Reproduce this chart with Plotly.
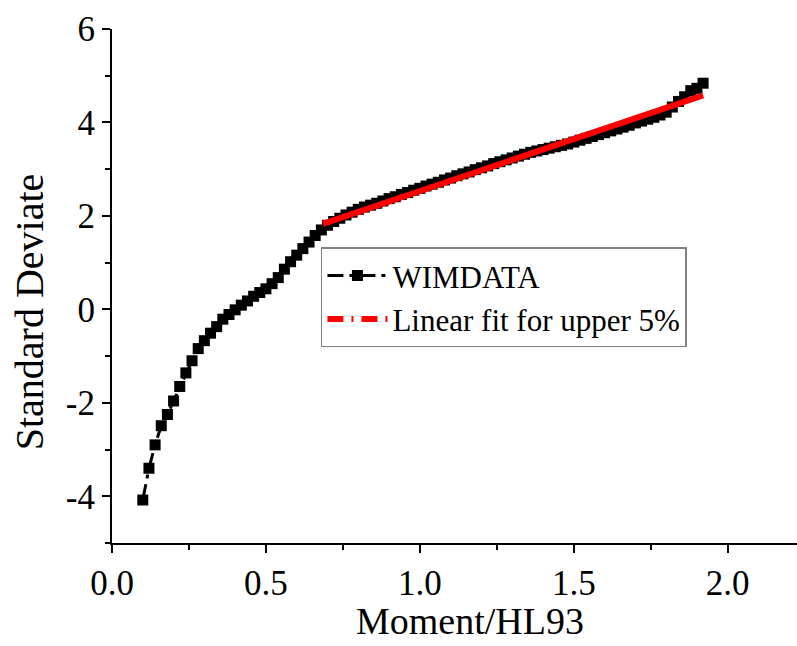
import plotly.graph_objects as go

# WIMDATA (Moment/HL93 ratio vs standard deviate)
wim_x = [0.10, 0.12, 0.14, 0.16, 0.18, 0.20, 0.22, 0.24, 0.26, 0.28,
         0.30, 0.32, 0.34, 0.36, 0.38, 0.40, 0.42, 0.44, 0.46, 0.48,
         0.50, 0.52, 0.54, 0.56, 0.58, 0.60, 0.62, 0.64, 0.66, 0.68,
         0.70, 0.72, 0.74, 0.76, 0.78, 0.80, 0.82, 0.84, 0.86, 0.88,
         0.90, 0.92, 0.94, 0.96, 0.98, 1.00, 1.02, 1.04, 1.06, 1.08,
         1.10, 1.12, 1.14, 1.16, 1.18, 1.20, 1.22, 1.24, 1.26, 1.28,
         1.30, 1.32, 1.34, 1.36, 1.38, 1.40, 1.42, 1.44, 1.46, 1.48,
         1.50, 1.52, 1.54, 1.56, 1.58, 1.60, 1.62, 1.64, 1.66, 1.68,
         1.70, 1.72, 1.74, 1.76, 1.78, 1.80, 1.82, 1.84, 1.86, 1.88,
         1.90, 1.92]
wim_y = [-4.08, -3.40, -2.90, -2.49, -2.25, -1.96, -1.65, -1.36, -1.10, -0.84,
         -0.67, -0.51, -0.37, -0.21, -0.11, -0.01, 0.09, 0.18, 0.28, 0.36,
         0.44, 0.55, 0.68, 0.86, 1.02, 1.16, 1.30, 1.44, 1.58, 1.70,
         1.80, 1.88, 1.95, 2.02, 2.08, 2.14, 2.19, 2.23, 2.27, 2.32,
         2.37, 2.41, 2.46, 2.50, 2.55, 2.59, 2.64, 2.68, 2.72, 2.77,
         2.81, 2.86, 2.90, 2.94, 2.99, 3.03, 3.07, 3.12, 3.16, 3.20,
         3.24, 3.28, 3.32, 3.36, 3.39, 3.42, 3.45, 3.48, 3.51, 3.54,
         3.58, 3.62, 3.66, 3.70, 3.74, 3.78, 3.82, 3.86, 3.90, 3.94,
         3.99, 4.03, 4.07, 4.11, 4.16, 4.22, 4.33, 4.45, 4.55, 4.68,
         4.73, 4.84]

# Linear fit for upper 5%
fit_x = [0.685, 1.92]
fit_y = [1.83, 4.58]

x_ticks = [0.0, 0.5, 1.0, 1.5, 2.0]
y_ticks = [-4, -2, 0, 2, 4, 6]

FONT = "Liberation Serif, Times New Roman, serif"

fig = go.Figure()

fig.add_trace(go.Scatter(
    x=wim_x, y=wim_y, mode="lines+markers", name="WIMDATA",
    line=dict(color="black", width=3, dash="16px,6px,4px,6px"),
    marker=dict(symbol="square", size=11, color="black"),
))
fig.add_trace(go.Scatter(
    x=fit_x, y=fit_y, mode="lines", showlegend=False,
    line=dict(color="#ff0000", width=6),
))
fig.add_trace(go.Scatter(
    x=[None], y=[None], mode="lines", name="Linear fit for upper 5%",
    line=dict(color="#ff0000", width=6, dash="16px,8px,2px,8px"),
))

axis_common = dict(
    showline=True, linecolor="black", linewidth=2,
    ticks="outside", ticklen=8, tickwidth=2, tickcolor="black",
    showgrid=False, zeroline=False,
    tickfont=dict(family=FONT, size=35, color="black"),
)

fig.update_xaxes(
    **axis_common, range=[0, 2.225], tickvals=x_ticks,
    ticktext=[f"{v:.1f}" for v in x_ticks],
    minor=dict(ticks="outside", ticklen=5, tickwidth=2, tickcolor="black", dtick=0.25, tick0=0),
)
fig.update_yaxes(
    **axis_common, range=[-5, 6], tickvals=y_ticks,
    ticktext=[str(v) for v in y_ticks],
    minor=dict(ticks="outside", ticklen=5, tickwidth=2, tickcolor="black", dtick=1, tick0=0),
)

title_font = dict(family=FONT, size=38, color="black")
fig.add_annotation(
    text="Moment/HL93", xref="paper", yref="paper", x=0.523, y=-0.1525,
    xanchor="center", yanchor="middle", showarrow=False, font=title_font,
    borderpad=0,
)
fig.add_annotation(
    text="Standard Deviate", xref="paper", yref="paper", x=-0.12, y=0.4505,
    xanchor="center", yanchor="middle", showarrow=False,
    font=dict(family=FONT, size=40, color="black"),
    textangle=-90, borderpad=0,
)

fig.update_layout(
    width=797, height=646,
    margin=dict(l=112, r=0, t=29, b=103),
    paper_bgcolor="white", plot_bgcolor="white",
    legend=dict(
        x=0.305, y=0.575, xanchor="left", yanchor="top",
        bgcolor="white", bordercolor="#808080", borderwidth=1.5,
        font=dict(family=FONT, size=31, color="black"),
        itemwidth=60, tracegroupgap=0,
    ),
)

fig.write_html("out.html")
